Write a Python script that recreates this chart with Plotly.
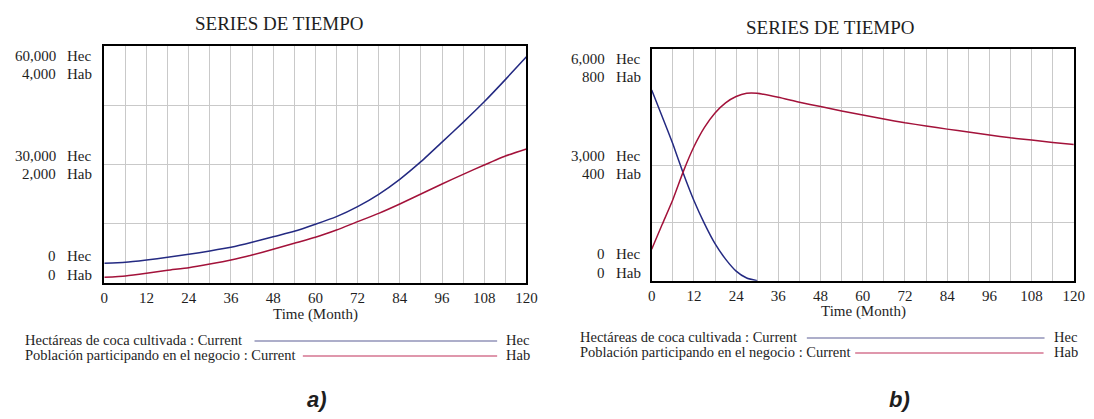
import plotly.graph_objects as go

W, H = 1094, 419

# ---------------- data ----------------
t_a = [0, 6, 12, 18, 24, 30, 36, 42, 48, 54, 60, 66, 72, 78, 84, 90, 96, 102, 108, 114, 120]
hec_a = [5060, 5300, 5890, 6570, 7330, 8170, 9090, 10360, 11790, 13140, 14910, 16850,
         19380, 22500, 26290, 30750, 35700, 40700, 45900, 51500, 57300]
hab_a = [101, 124, 168, 219, 264, 325, 393, 477, 573, 674, 775, 899,
         1039, 1179, 1337, 1505, 1674, 1837, 1994, 2146, 2265]

t_b = [0, 3, 6, 9, 12, 15, 18, 21, 24, 27, 30, 36, 42, 48, 54, 60, 66, 72, 78, 84, 90, 96, 102, 108, 114, 120]
t_b_hec = [0, 3, 6, 9, 12, 15, 18, 21, 24, 27, 30]
hec_b = [4945, 4250, 3550, 2780, 2080, 1480, 960, 560, 250, 70, 0]
hab_b = [109, 195, 280, 378, 463, 530, 580, 615, 637, 648, 648, 634, 617, 602, 587, 573,
         559, 546, 535, 524, 514, 504, 494, 486, 478, 471]

x_ticks = [0, 12, 24, 36, 48, 60, 72, 84, 96, 108, 120]
hec_max_a, hab_max_a = 60000, 4000
hec_max_b, hab_max_b = 6000, 800
labels_a = [("60,000", "Hec"), ("4,000", "Hab"), ("30,000", "Hec"), ("2,000", "Hab"), ("0", "Hec"), ("0", "Hab")]
labels_b = [("6,000", "Hec"), ("800", "Hab"), ("3,000", "Hec"), ("400", "Hab"), ("0", "Hec"), ("0", "Hab")]
legend_names = ["Hectáreas de coca cultivada : Current", "Población participando en el negocio : Current"]
legend_units = ["Hec", "Hab"]

BLUE = "#242a82"
RED = "#a3123a"
BLUE_LEG = "#5c5e96"
RED_LEG = "#c0305a"
SERIF = "Liberation Serif, Times New Roman, serif"
TXT = "#1e1e1e"

def px(x):
    return x / W

def py(y):
    return 1 - y / H

fig = go.Figure()
fig.add_trace(go.Scatter(x=t_a, y=hec_a, xaxis="x", yaxis="y", mode="lines",
                         line=dict(color=BLUE, width=1.5, shape="spline", smoothing=0.5)))
fig.add_trace(go.Scatter(x=t_a, y=hab_a, xaxis="x", yaxis="y3", mode="lines",
                         line=dict(color=RED, width=1.5, shape="spline", smoothing=0.5)))
fig.add_trace(go.Scatter(x=t_b_hec, y=hec_b, xaxis="x2", yaxis="y2", mode="lines",
                         line=dict(color=BLUE, width=1.5, shape="spline", smoothing=0.5)))
fig.add_trace(go.Scatter(x=t_b, y=hab_b, xaxis="x2", yaxis="y4", mode="lines",
                         line=dict(color=RED, width=1.5, shape="spline", smoothing=0.5)))

xdom_a = [px(101.7), px(529.7)]
xdom_b = [px(656.7), px(1084.7)]
ydom_a = [py(283.3), py(46)]
ydom_b = [py(280.7), py(49.3)]

def xax(dom, anchor):
    return dict(domain=dom, anchor=anchor, range=[0, 120], tickvals=x_ticks,
                ticktext=[str(v) for v in x_ticks], showgrid=True, gridcolor="#c9c9c9",
                gridwidth=1, minor=dict(dtick=6, tick0=0, showgrid=True, gridcolor="#c9c9c9", gridwidth=1),
                showline=True, linecolor="black", linewidth=2, mirror=True,
                ticks="", tickfont=dict(family=SERIF, size=15, color=TXT), zeroline=False, fixedrange=True)

def yax(dom, anchor, mx):
    return dict(domain=dom, anchor=anchor, range=[0, mx], tickvals=[0, mx / 4, mx / 2, 3 * mx / 4, mx],
                showticklabels=False, showgrid=True, gridcolor="#c9c9c9", gridwidth=1,
                showline=True, linecolor="black", linewidth=2, mirror=True, ticks="",
                zeroline=False, fixedrange=True)

def yov(over, anchor, mx):
    return dict(overlaying=over, anchor=anchor, range=[0, mx], showticklabels=False, showgrid=False,
                showline=False, zeroline=False, ticks="", fixedrange=True)

fig.update_layout(
    width=W, height=H, margin=dict(l=0, r=0, t=0, b=0),
    paper_bgcolor="white", plot_bgcolor="white", showlegend=False,
    xaxis=xax(xdom_a, "y"), yaxis=yax(ydom_a, "x", hec_max_a),
    xaxis2=xax(xdom_b, "y2"), yaxis2=yax(ydom_b, "x2", hec_max_b),
    yaxis3=yov("y", "x", hab_max_a), yaxis4=yov("y2", "x2", hab_max_b),
)

ann = []
def text(x, y, s, size=15, xanchor="center", family=SERIF):
    ann.append(dict(x=px(x), y=py(y), xref="paper", yref="paper", text=s, showarrow=False,
                    xanchor=xanchor, yanchor="middle", borderpad=0, borderwidth=0,
                    font=dict(family=family, size=size, color=TXT)))

# titles
text(279, 24, "SERIES DE TIEMPO", size=19)
text(838, 27, "SERIES DE TIEMPO", size=19)
# axis titles
text(316, 314, "Time (Month)", size=15)
text(871, 311, "Time (Month)", size=15)

# y labels
ys_a = [56, 74.3, 155.7, 174, 256.3, 275.3]
ys_b = [59.3, 77, 155.7, 174, 254.3, 272.7]
for (num, unit), yy in zip(labels_a, ys_a):
    text(52.6, yy, num, xanchor="right")
    text(64, yy, unit, xanchor="left")
for (num, unit), yy in zip(labels_b, ys_b):
    text(609, yy, num, xanchor="right")
    text(621, yy, unit, xanchor="left")

# legends
shapes = []
leg_a = [(340, 254, 500), (355, 303, 500)]
leg_b = [(337, 814, 1055), (352, 863, 1054)]
for i, (yy, x0, x1) in enumerate(leg_a):
    text(21, yy, legend_names[i], size=14.5, xanchor="left")
    text(509, yy, legend_units[i], size=14.5, xanchor="left")
    shapes.append(dict(type="line", xref="paper", yref="paper", x0=px(x0), x1=px(x1), y0=py(yy + 1), y1=py(yy + 1),
                       line=dict(color=[BLUE_LEG, RED_LEG][i], width=1.2)))
for i, (yy, x0, x1) in enumerate(leg_b):
    text(584, yy, legend_names[i], size=14.5, xanchor="left")
    text(1065, yy, legend_units[i], size=14.5, xanchor="left")
    shapes.append(dict(type="line", xref="paper", yref="paper", x0=px(x0), x1=px(x1), y0=py(yy + 1), y1=py(yy + 1),
                       line=dict(color=[BLUE_LEG, RED_LEG][i], width=1.2)))

# panel labels
text(317, 399, "<b><i>a)</i></b>", size=22, family="Liberation Sans, Arial, sans-serif")
text(908, 399, "<b><i>b)</i></b>", size=22, family="Liberation Sans, Arial, sans-serif")

fig.update_layout(annotations=ann, shapes=shapes)
fig.write_html("out.html", config={"displayModeBar": False},
               post_script="document.body.style.margin='0';document.body.style.overflow='hidden';")
